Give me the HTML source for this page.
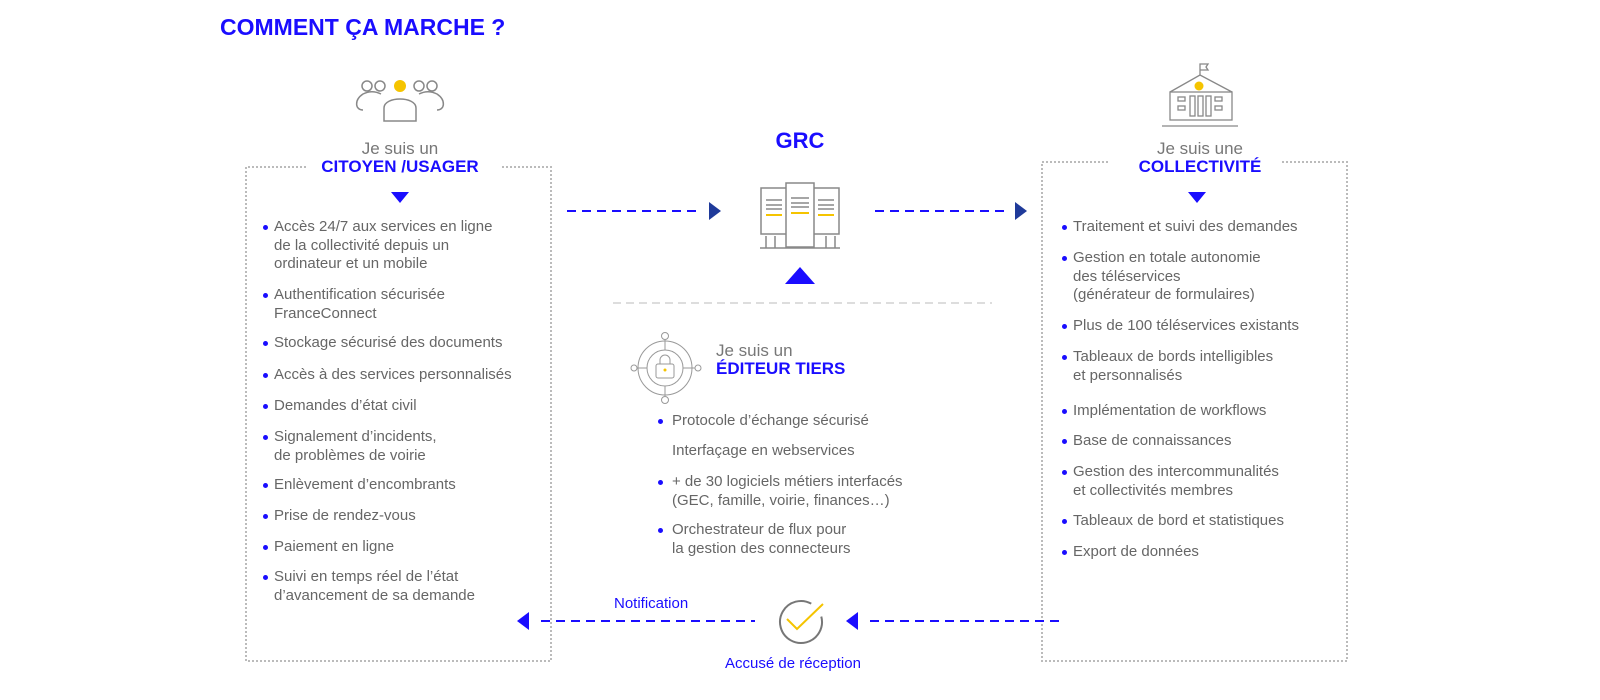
<!DOCTYPE html>
<html><head><meta charset="utf-8"><style>
body{margin:0;width:1600px;height:700px;background:#fff;position:relative;overflow:hidden;font-family:"Liberation Sans",sans-serif;}
.t{position:absolute;color:#666;font-size:15px;line-height:18.5px;white-space:nowrap;}
.b{position:absolute;width:5px;height:5px;border-radius:50%;background:#1a0dff;margin-top:-3px;}
.h{position:absolute;text-align:center;white-space:nowrap;}
.g{color:#777;font-size:17px;}
.bl{color:#1a0dff;font-weight:bold;font-size:17px;}
</style></head><body>
<div style="position:absolute;left:220px;top:14px;color:#1a0dff;font-weight:bold;font-size:23px;">COMMENT ÇA MARCHE ?</div>

<svg width="1600" height="700" style="position:absolute;left:0;top:0">
<g fill="none" stroke="#bbb" stroke-width="2" stroke-dasharray="2,2">
<path d="M306 167H246V661H551V167H500"/>
<path d="M1108 162H1042V661H1347V162H1280"/>
</g>
<line x1="613" y1="303" x2="992" y2="303" stroke="#ddd" stroke-width="2" stroke-dasharray="8,5"/>
<g stroke="#1a0dff" stroke-width="2" stroke-dasharray="9,6">
<line x1="567" y1="211" x2="700" y2="211"/>
<line x1="875" y1="211" x2="1010" y2="211"/>
<line x1="541" y1="621" x2="755" y2="621"/>
<line x1="870" y1="621" x2="1060" y2="621"/>
</g>
<polygon points="709,202 721,211 709,220" fill="#1f3a9a"/>
<polygon points="1015,202 1027,211 1015,220" fill="#1f3a9a"/>
<polygon points="529,612 517,621 529,630" fill="#1a0dff"/>
<polygon points="858,612 846,621 858,630" fill="#1a0dff"/>
<polygon points="391,192 409,192 400,203" fill="#1a0dff"/>
<polygon points="1188,192 1206,192 1197,203" fill="#1a0dff"/>
<polygon points="800,267 785,284 815,284" fill="#1a0dff"/>
<!-- people icon -->
<g fill="none" stroke="#888" stroke-width="1.5">
<circle cx="367" cy="86" r="5"/><circle cx="380" cy="86" r="5"/>
<circle cx="419" cy="86" r="5"/><circle cx="432" cy="86" r="5"/>
<path d="M363 110c-8 0-9-10 0-16 6-3 12-3 18 0"/>
<path d="M437 110c8 0 9-10 0-16-6-3-12-3-18 0"/>
<path d="M384 121v-13c0-12 32-12 32 0v13z"/>
</g>
<circle cx="400" cy="86" r="6" fill="#f5c400"/>
<!-- building -->
<g fill="none" stroke="#888" stroke-width="1.3">
<rect x="1170" y="92" width="62" height="28"/>
<path d="M1170 92L1200 75L1232 92"/>
<path d="M1200 75V64h8l-2 3 2 3h-8"/>
<rect x="1178" y="97" width="7" height="4"/><rect x="1178" y="106" width="7" height="4"/>
<rect x="1215" y="97" width="7" height="4"/><rect x="1215" y="106" width="7" height="4"/>
<rect x="1190" y="96" width="5" height="20"/><rect x="1198" y="96" width="5" height="20"/><rect x="1206" y="96" width="5" height="20"/>
<line x1="1162" y1="126" x2="1238" y2="126"/>
</g>
<circle cx="1199" cy="86" r="4.5" fill="#f5c400"/>
<!-- servers -->
<g fill="none" stroke="#888" stroke-width="1.5">
<rect x="761" y="188" width="26" height="46"/>
<rect x="813" y="188" width="26" height="46"/>
<rect x="786" y="183" width="28" height="64" fill="#fff"/>
<line x1="760" y1="248" x2="840" y2="248"/>
<path d="M766 236v12M775 236v12M826 236v12M835 236v12"/>
<path d="M766 200h16M766 205h16M766 209h16M791 198h18M791 203h18M791 207h18M818 200h16M818 205h16M818 209h16"/>
</g>
<path d="M766 215h16M791 213h18M818 215h16" stroke="#f5c400" stroke-width="2"/>
<!-- lock icon -->
<g fill="none" stroke="#999" stroke-width="1">
<circle cx="665" cy="368" r="27"/><circle cx="665" cy="368" r="18"/>
<circle cx="665" cy="336" r="3.5"/><circle cx="665" cy="400" r="3.5" fill="#fff"/>
<circle cx="634" cy="368" r="3" fill="#fff"/><circle cx="698" cy="368" r="3" fill="#fff"/>
<line x1="665" y1="339" x2="665" y2="350"/><line x1="665" y1="386" x2="665" y2="396"/>
<line x1="637" y1="368" x2="647" y2="368"/><line x1="683" y1="368" x2="695" y2="368"/>
<rect x="656" y="364" width="18" height="14" rx="2"/>
<path d="M660 364v-4a5 5 0 0 1 10 0v4"/>
</g>
<circle cx="665" cy="370" r="1.5" fill="#f5c400"/>
<!-- check -->
<circle cx="801" cy="622" r="21" fill="none" stroke="#777" stroke-width="2" stroke-dasharray="115 17" transform="rotate(-15 801 622)"/>
<path d="M787 619l10 10 26-25" fill="none" stroke="#f5c400" stroke-width="2"/>
</svg>

<div class="h" style="left:300px;width:200px;top:139px"><div class="g">Je suis un</div><div class="bl" style="margin-top:-2px">CITOYEN /USAGER</div></div>
<div class="h" style="left:1100px;width:200px;top:139px"><div class="g">Je suis une</div><div class="bl" style="margin-top:-2px">COLLECTIVITÉ</div></div>
<div class="h" style="left:750px;width:100px;top:128px;color:#1a0dff;font-weight:bold;font-size:22px">GRC</div>
<div class="h" style="left:716px;top:341px;text-align:left"><div class="g">Je suis un</div><div class="bl" style="margin-top:-2px">ÉDITEUR TIERS</div></div>

<div class="b" style="left:263px;top:228px"></div><div class="t" style="left:274px;top:218px">Accès 24/7 aux services en ligne<br>de la collectivité depuis un<br>ordinateur et un mobile</div>
<div class="b" style="left:263px;top:296px"></div><div class="t" style="left:274px;top:286px">Authentification sécurisée<br>FranceConnect</div>
<div class="b" style="left:263px;top:344px"></div><div class="t" style="left:274px;top:334px">Stockage sécurisé des documents</div>
<div class="b" style="left:263px;top:376px"></div><div class="t" style="left:274px;top:366px">Accès à des services personnalisés</div>
<div class="b" style="left:263px;top:407px"></div><div class="t" style="left:274px;top:397px">Demandes d’état civil</div>
<div class="b" style="left:263px;top:438px"></div><div class="t" style="left:274px;top:428px">Signalement d’incidents,<br>de problèmes de voirie</div>
<div class="b" style="left:263px;top:486px"></div><div class="t" style="left:274px;top:476px">Enlèvement d’encombrants</div>
<div class="b" style="left:263px;top:517px"></div><div class="t" style="left:274px;top:507px">Prise de rendez-vous</div>
<div class="b" style="left:263px;top:548px"></div><div class="t" style="left:274px;top:538px">Paiement en ligne</div>
<div class="b" style="left:263px;top:578px"></div><div class="t" style="left:274px;top:568px">Suivi en temps réel de l’état<br>d’avancement de sa demande</div>

<div class="b" style="left:1062px;top:228px"></div><div class="t" style="left:1073px;top:218px">Traitement et suivi des demandes</div>
<div class="b" style="left:1062px;top:259px"></div><div class="t" style="left:1073px;top:249px">Gestion en totale autonomie<br>des téléservices<br>(générateur de formulaires)</div>
<div class="b" style="left:1062px;top:327px"></div><div class="t" style="left:1073px;top:317px">Plus de 100 téléservices existants</div>
<div class="b" style="left:1062px;top:358px"></div><div class="t" style="left:1073px;top:348px">Tableaux de bords intelligibles<br>et personnalisés</div>
<div class="b" style="left:1062px;top:412px"></div><div class="t" style="left:1073px;top:402px">Implémentation de workflows</div>
<div class="b" style="left:1062px;top:442px"></div><div class="t" style="left:1073px;top:432px">Base de connaissances</div>
<div class="b" style="left:1062px;top:473px"></div><div class="t" style="left:1073px;top:463px">Gestion des intercommunalités<br>et collectivités membres</div>
<div class="b" style="left:1062px;top:522px"></div><div class="t" style="left:1073px;top:512px">Tableaux de bord et statistiques</div>
<div class="b" style="left:1062px;top:553px"></div><div class="t" style="left:1073px;top:543px">Export de données</div>

<div class="b" style="left:658px;top:422px"></div><div class="t" style="left:672px;top:412px">Protocole d’échange sécurisé</div>
<div class="t" style="left:672px;top:442px">Interfaçage en webservices</div>
<div class="b" style="left:658px;top:483px"></div><div class="t" style="left:672px;top:473px">+ de 30 logiciels métiers interfacés<br>(GEC, famille, voirie, finances…)</div>
<div class="b" style="left:658px;top:531px"></div><div class="t" style="left:672px;top:521px">Orchestrateur de flux pour<br>la gestion des connecteurs</div>

<div style="position:absolute;left:614px;top:595px;color:#1a0dff;font-size:15px">Notification</div>
<div style="position:absolute;left:725px;top:655px;color:#1a0dff;font-size:15px">Accusé de réception</div>
</body></html>
